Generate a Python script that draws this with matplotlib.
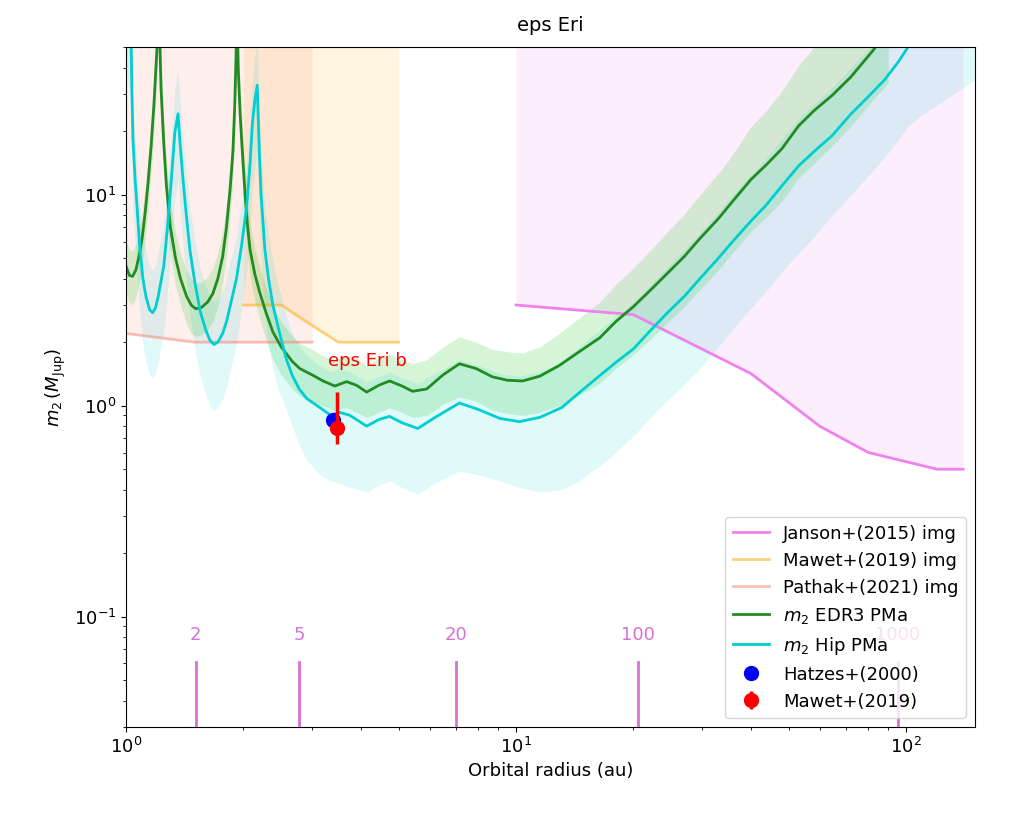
import matplotlib
matplotlib.use("Agg")
import matplotlib.pyplot as plt

BIG_TEXT = 14
MED_TEXT = 13

plt.rcParams.update({
    "font.family": "DejaVu Sans",
    "axes.labelsize": MED_TEXT,
    "xtick.labelsize": MED_TEXT,
    "ytick.labelsize": MED_TEXT,
})

# --- imaging limits -------------------------------------------------------
janson_a = [10, 20, 40, 60, 80, 120, 140]
janson_m = [3.0, 2.7, 1.42, 0.8, 0.6, 0.5, 0.5]

mawet_a = [2.0, 2.5, 2.9, 3.5, 5.0]
mawet_m = [3.0, 3.0, 2.5, 2.0, 2.0]

pathak_a = [1.0, 1.5, 3.0]
pathak_m = [2.2, 2.0, 2.0]

# --- EDR3 PMa sensitivity curve (median, lower, upper) ---------------------
edr3_a = [1.00, 1.02, 1.04, 1.06, 1.08, 1.10, 1.12, 1.14, 1.16, 1.18, 1.20, 1.215,
          1.23, 1.25, 1.27, 1.30, 1.34, 1.38, 1.43, 1.47, 1.51, 1.56, 1.62, 1.67,
          1.72, 1.77, 1.81, 1.85, 1.88, 1.90, 1.915, 1.925, 1.94, 1.96, 1.98, 2.02,
          2.05, 2.08, 2.14, 2.20, 2.28, 2.38, 2.5, 2.67, 2.79, 3.0, 3.2, 3.43,
          3.68, 3.9, 4.14, 4.45, 4.74, 5.1, 5.43, 5.9, 6.5, 7.16, 7.9, 8.7,
          9.5, 10.4, 11.5, 12.9, 14.5, 16.4, 18, 20, 22, 24.3, 27, 29.6,
          33, 35.9, 40, 43.7, 48, 53, 58, 64.5, 72, 82, 90]
edr3_m = [4.6, 4.15, 4.1, 4.4, 5.1, 6.2, 8.2, 11.5, 17, 27, 48, 80,
          32, 17.5, 11, 7.0, 5.0, 4.0, 3.3, 3.0, 2.88, 2.92, 3.1, 3.4,
          4.0, 5.1, 7.0, 10.7, 16, 26, 45, 80, 40, 25, 18, 10,
          7.1, 5.5, 4.2, 3.47, 2.8, 2.24, 1.9, 1.62, 1.50, 1.40, 1.31, 1.24,
          1.30, 1.25, 1.16, 1.25, 1.31, 1.24, 1.17, 1.20, 1.40, 1.58, 1.50, 1.37,
          1.32, 1.31, 1.38, 1.55, 1.80, 2.1, 2.5, 2.95, 3.5, 4.2, 5.1, 6.2,
          7.7, 9.3, 11.8, 13.8, 16.5, 21.2, 25, 29.5, 36, 48, 60]
edr3_lo = [3.4, 3.1, 3.0, 3.25, 3.8, 4.6, 6.1, 8.5, 12.6, 20, 35, 59,
           24, 13, 8.1, 5.2, 3.7, 3.0, 2.45, 2.2, 2.13, 2.16, 2.3, 2.5,
           2.95, 3.8, 5.2, 7.9, 11.8, 19, 33, 59, 30, 18.5, 13.3, 7.4,
           5.25, 4.1, 3.1, 2.6, 2.07, 1.66, 1.4, 1.2, 1.11, 1.04, 1.0, 0.95,
           0.98, 0.93, 0.88, 0.93, 0.98, 0.93, 0.88, 0.9, 1.02, 1.1, 1.05, 0.95,
           0.92, 0.9, 0.93, 1.0, 1.12, 1.28, 1.5, 1.75, 2.05, 2.45, 2.95, 3.55,
           4.4, 5.3, 6.7, 7.8, 9.3, 12, 14, 17, 21, 28, 34]
edr3_hi = [6.1, 5.5, 5.4, 5.8, 6.7, 8.2, 10.8, 15, 22, 36, 63, 105,
           42, 23, 14.5, 9.2, 6.6, 5.3, 4.35, 4.0, 3.8, 3.85, 4.1, 4.5,
           5.3, 6.7, 9.2, 14, 21, 34, 60, 105, 53, 33, 24, 13.2,
           9.4, 7.3, 5.5, 4.6, 3.7, 2.95, 2.5, 2.14, 1.98, 1.85, 1.72, 1.64,
           1.75, 1.68, 1.55, 1.68, 1.75, 1.66, 1.58, 1.65, 1.9, 2.12, 2.0, 1.85,
           1.8, 1.78, 1.9, 2.2, 2.6, 3.1, 3.75, 4.5, 5.4, 6.6, 8.1, 10,
           12.6, 15.5, 21, 25, 31, 41, 50, 60, 75, 100, 125]

# --- Hipparcos PMa sensitivity curve (median, lower, upper) ---------------
hip_a = [1.00, 1.03, 1.036, 1.042, 1.055, 1.067, 1.085, 1.105, 1.125, 1.15, 1.17, 1.19,
         1.21, 1.23, 1.25, 1.27, 1.296, 1.32, 1.335, 1.36, 1.375, 1.39, 1.40, 1.43,
         1.46, 1.50, 1.55, 1.60, 1.64, 1.68, 1.72, 1.77, 1.81, 1.86, 1.92, 1.98,
         2.04, 2.08, 2.11, 2.14, 2.17, 2.20, 2.22, 2.25, 2.27, 2.32, 2.38, 2.45,
         2.51, 2.58, 2.67, 2.78, 2.91, 3.14, 3.35, 3.53, 3.75, 4.14, 4.45, 4.74,
         5.1, 5.6, 6.2, 7.16, 8.0, 9.1, 10.2, 11.5, 13.1, 14.5, 16.4, 18,
         20, 22, 24.3, 27, 29.6, 33, 35.9, 40, 43.7, 48, 53, 58,
         64.5, 72, 79, 88, 95.8, 101, 110, 125, 139, 150]
hip_m = [80, 60, 30, 18.4, 12, 8.9, 5.6, 4.0, 3.3, 2.85, 2.76, 2.9,
         3.3, 3.9, 4.6, 6.2, 9.6, 15, 19.8, 24.2, 18, 14, 11.9, 7.8,
         5.4, 3.9, 2.8, 2.3, 2.05, 1.95, 2.0, 2.2, 2.5, 3.1, 4.0, 5.8,
         8.9, 14, 22, 28, 33, 15, 10, 7, 5.5, 4.0, 3.0, 2.4,
         2.0, 1.65, 1.39, 1.2, 1.08, 0.98, 0.90, 0.93, 0.90, 0.80, 0.86, 0.89,
         0.83, 0.78, 0.88, 1.03, 0.96, 0.87, 0.84, 0.88, 0.98, 1.15, 1.39, 1.6,
         1.86, 2.25, 2.73, 3.3, 4.0, 5.0, 6.0, 7.5, 8.9, 11, 13.7, 16,
         19.0, 24, 28.5, 35, 43, 50, 62, 85, 110, 120]
hip_lo = [39, 29, 14.7, 9, 5.9, 4.4, 2.75, 1.96, 1.62, 1.4, 1.35, 1.42,
          1.62, 1.9, 2.25, 3.0, 4.7, 7.3, 9.7, 11.9, 8.8, 6.9, 5.8, 3.8,
          2.65, 1.9, 1.37, 1.13, 1.0, 0.95, 0.98, 1.08, 1.22, 1.52, 1.96, 2.85,
          4.4, 6.9, 10.8, 13.7, 16, 7.4, 4.9, 3.4, 2.7, 1.96, 1.5, 1.2,
          1.1, 0.95, 0.80, 0.65, 0.55, 0.47, 0.44, 0.43, 0.41, 0.39, 0.42, 0.44,
          0.41, 0.38, 0.43, 0.49, 0.47, 0.44, 0.41, 0.39, 0.40, 0.44, 0.52, 0.6,
          0.72, 0.87, 1.05, 1.26, 1.5, 1.9, 2.3, 2.9, 3.47, 4.3, 5.3, 6.3,
          7.95, 9.9, 12, 15, 18.4, 21, 24, 28, 31.8, 35]
hip_hi = [128, 96, 48, 29, 19, 14, 9, 6.4, 5.3, 4.6, 4.4, 4.6,
          5.3, 6.2, 7.4, 9.9, 15.4, 24, 32, 39, 29, 22, 19, 12.5,
          8.6, 6.2, 4.5, 3.7, 3.3, 3.1, 3.2, 3.5, 4.0, 5.0, 6.4, 9.3,
          14, 22, 35, 45, 53, 24, 16, 11.2, 8.8, 6.4, 4.8, 3.8,
          3.2, 2.65, 2.2, 1.92, 1.72, 1.55, 1.45, 1.5, 1.45, 1.3, 1.38, 1.45,
          1.35, 1.28, 1.42, 1.65, 1.55, 1.42, 1.38, 1.45, 1.62, 1.9, 2.3, 2.65,
          3.1, 3.7, 4.5, 5.5, 6.6, 8.3, 10, 12.5, 14.8, 18.3, 23, 27,
          32, 40, 48, 58, 72, 84, 100, 140, 180, 200]

# --- known planet -----------------------------------------------------------
hatzes_a, hatzes_m = 3.39, 0.86
mawet_pl_a, mawet_pl_m = 3.48, 0.78
mawet_pl_err = [[0.12], [0.38]]

# orbital periods (yr) marked along the bottom, star mass (Msun)
periods = [2, 5, 20, 100, 1000]
mstar = 0.86

YMAX = 50

fig = plt.figure(figsize=(10.24, 8.15), dpi=100)
ax = fig.add_axes([0.123, 0.108, 0.829, 0.834])
ax.set_xscale('log')
ax.set_yscale('log')

# imaging limits, shaded above
ax.fill_between(janson_a, janson_m, YMAX * 10, color='violet', alpha=0.13, lw=0)
ax.fill_between(mawet_a, mawet_m, YMAX * 10, color='orange', alpha=0.12, lw=0)
ax.fill_between(pathak_a, pathak_m, YMAX * 10, color='salmon', alpha=0.12, lw=0)
ax.plot(janson_a, janson_m, color='violet', lw=2, label='Janson+(2015) img')
ax.plot(mawet_a, mawet_m, color='orange', alpha=0.5, lw=2, label='Mawet+(2019) img')
ax.plot(pathak_a, pathak_m, color='salmon', alpha=0.5, lw=2, label='Pathak+(2021) img')

# PMa sensitivity
ax.fill_between(edr3_a, edr3_lo, edr3_hi, color='limegreen', alpha=0.2, lw=0)
ax.fill_between(hip_a, hip_lo, hip_hi, color='darkturquoise', alpha=0.12, lw=0)
ax.plot(edr3_a, edr3_m, color='forestgreen', lw=2, label=r'$m_2$ EDR3 PMa')
ax.plot(hip_a, hip_m, color='darkturquoise', lw=2, label=r'$m_2$ Hip PMa')

ax.plot(hatzes_a, hatzes_m, 'o', color='blue', ms=10, label='Hatzes+(2000)')
ax.errorbar(mawet_pl_a, mawet_pl_m, yerr=mawet_pl_err, fmt='o', color='red',
            ms=10, elinewidth=2.5, label='Mawet+(2019)')
ax.text(4.16, 1.62, 'eps Eri b', color='red', fontsize=MED_TEXT,
        ha='center', va='center')

# period markers
for p in periods:
    a_p = (mstar * p ** 2) ** (1. / 3.)
    ax.plot([a_p, a_p], [0.03, 0.061], color='orchid', lw=2)
    ax.text(a_p, 0.082, str(p), color='orchid', fontsize=MED_TEXT,
            ha='center', va='center')

ax.set_xlim(1, 150)
ax.set_ylim(0.03, YMAX)
ax.set_xlabel('Orbital radius (au)')
ax.set_ylabel(r'$m_2\,(M_{\rm Jup})$')
ax.set_title('eps Eri', fontsize=BIG_TEXT, pad=12)

leg = ax.legend(loc='lower right', fontsize=MED_TEXT, framealpha=0.8)
leg.set_zorder(5)

fig.savefig('out.png', dpi=100)
